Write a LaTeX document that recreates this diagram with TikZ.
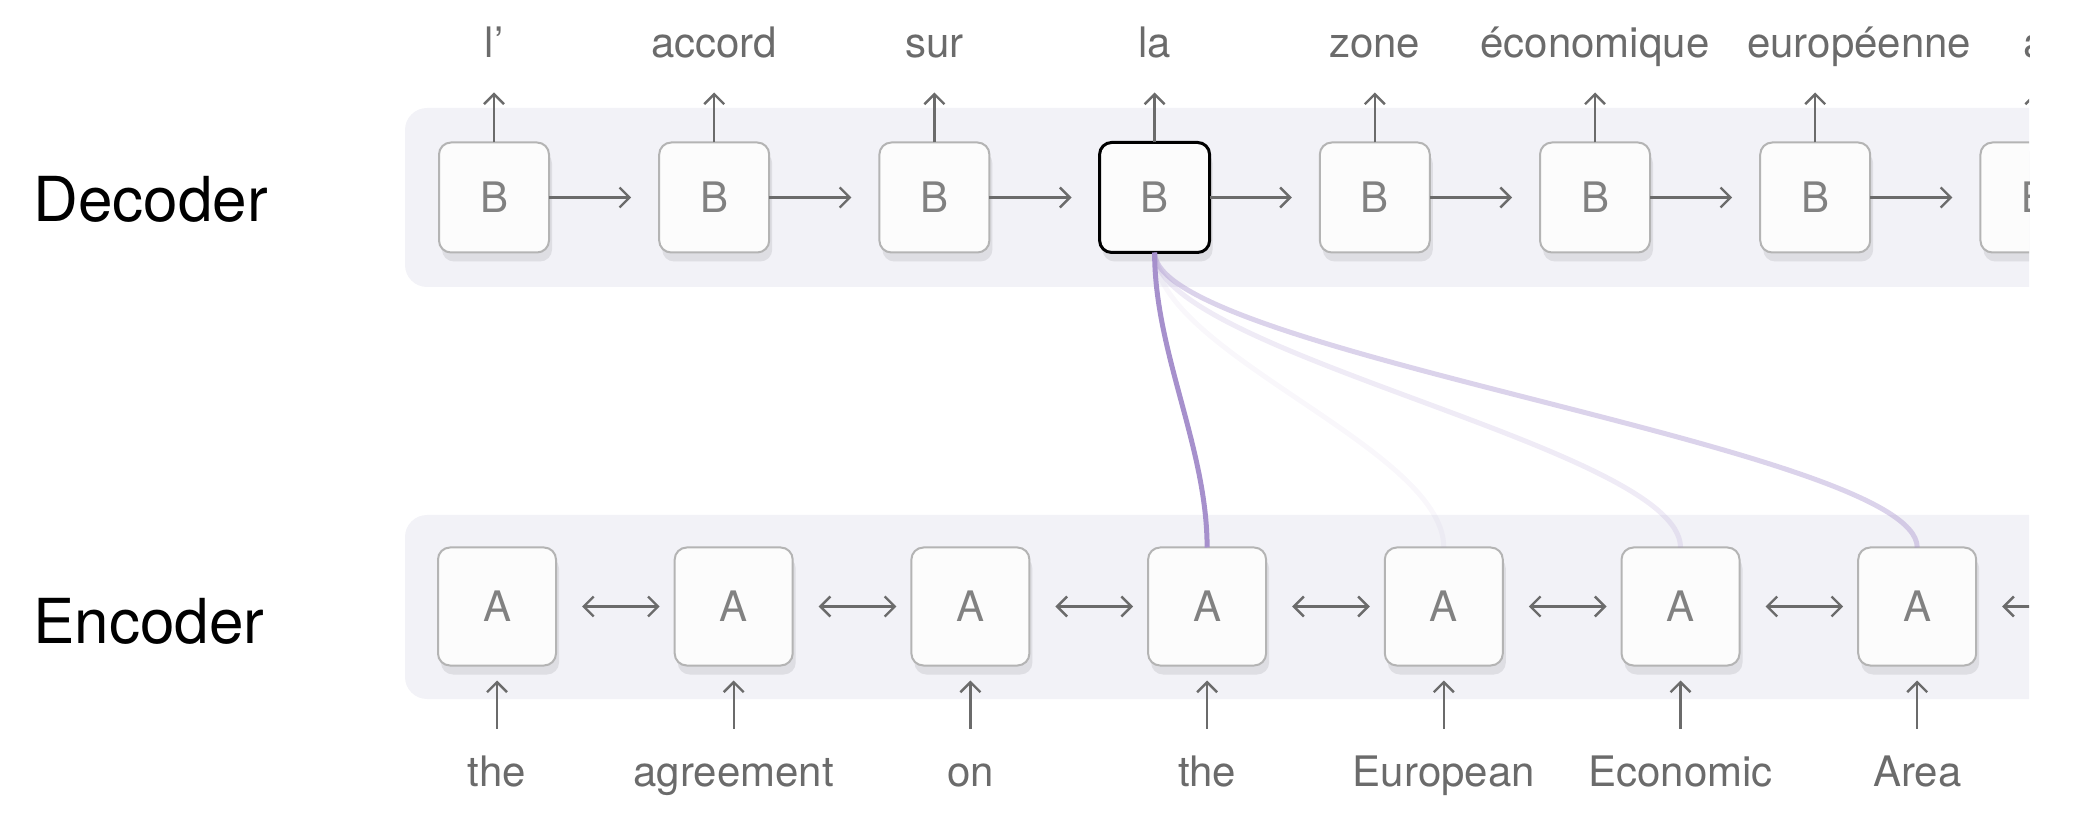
\documentclass[tikz,border=0pt]{standalone}
\usepackage{fontspec}
\setmainfont{TeX Gyre Heros}
\usetikzlibrary{positioning, arrows.meta, shadows}
\definecolor{bandgray}{HTML}{F2F2F7}
\definecolor{boxgray}{HTML}{B4B4B4}
\definecolor{boxfill}{HTML}{FCFCFC}
\definecolor{shade}{HTML}{DEDEE3}
\definecolor{inkgray}{HTML}{6B6B6B}
\definecolor{attn}{HTML}{A690CC}
\tikzset{
cell/.style={rectangle, rounded corners=6pt, inner sep=0, outer sep=0, draw=boxgray, line width=1pt, fill=boxfill, text=inkgray!85, font=\fontsize{21pt}{25pt}\selectfont, drop shadow={shadow xshift=1.5pt, shadow yshift=-4.5pt, fill=shade, opacity=1}},
dec/.style={cell, minimum size=55pt}, enc/.style={cell, minimum size=59pt}, focus/.style={dec, draw=black, line width=1.5pt},
word/.style={inner sep=0, outer sep=0, text=inkgray, font=\fontsize{21pt}{25pt}\selectfont, text height=15pt, text depth=4pt},
title/.style={anchor=west, inner sep=0, font=\fontsize{31pt}{36pt}\selectfont},
flow/.style={draw=inkgray, line width=1.2pt}, link/.style={draw=attn, line width=2.5pt},
>={Straight Barb[length=5pt, width=10pt]}}

\begin{document}
\begin{tikzpicture}[x=0.5pt, y=-0.5pt]
\useasboundingbox (0,0) rectangle (2086,838);
\clip (0,0) rectangle (2029,838);
\fill [bandgray, rounded corners=11pt] (405,108) rectangle (2120,287);
\fill [bandgray, rounded corners=11pt] (405,515) rectangle (2120,699);
\node [title] (dectitle) at (33,199) {Decoder};
\node [title] (enctitle) at (33,621) {Encoder};
% decoder
\node [dec] (d1) at (494,197.5) {B};
\node [dec, right=55.1pt of d1] (d2) {B};
\node [dec, right=55.1pt of d2] (d3) {B};
\node [focus, right=55.1pt of d3] (d4) {B};
\node [dec, right=55.1pt of d4] (d5) {B};
\node [dec, right=55.1pt of d5] (d6) {B};
\node [dec, right=55.1pt of d6] (d7) {B};
\node [dec, right=55.1pt of d7] (d8) {B};
\node [word, above=38.5pt of d1] (t1) {l’};
\node [word, above=38.5pt of d2] (t2) {accord};
\node [word, above=38.5pt of d3] (t3) {sur};
\node [word, above=38.5pt of d4] (t4) {la};
\node [word, above=38.5pt of d5] (t5) {zone};
\node [word, above=38.5pt of d6] (t6) {économique};
\node [word, above=38.5pt of d7, xshift=22pt] (t7) {européenne};
\node [word, above=38.5pt of d8] (t8) {a};
% encoder
\node [enc] (e1) at (497,606.5) {A};
\node [enc, right=59.35pt of e1] (e2) {A};
\node [enc, right=59.35pt of e2] (e3) {A};
\node [enc, right=59.35pt of e3] (e4) {A};
\node [enc, right=59.35pt of e4] (e5) {A};
\node [enc, right=59.35pt of e5] (e6) {A};
\node [enc, right=59.35pt of e6] (e7) {A};
\coordinate [right=59.35pt of e7] (e8);
\node [word, below=45.5pt of e1] (s1) {the};
\node [word, below=45.5pt of e2] (s2) {agreement};
\node [word, below=45.5pt of e3] (s3) {on};
\node [word, below=45.5pt of e4] (s4) {the};
\node [word, below=45.5pt of e5] (s5) {European};
\node [word, below=45.5pt of e6] (s6) {Economic};
\node [word, below=45.5pt of e7] (s7) {Area};
% decoder arrows
\draw [flow, ->, shorten >=13.5pt] (d1) -- (t1);
\draw [flow, ->, shorten >=13.5pt] (d2) -- (t2);
\draw [flow, ->, shorten >=13.5pt] (d3) -- (t3);
\draw [flow, ->, shorten >=13.5pt] (d4) -- (t4);
\draw [flow, ->, shorten >=13.5pt] (d5) -- (t5);
\draw [flow, ->, shorten >=13.5pt] (d6) -- (t6);
\draw [flow, ->, shorten >=13.5pt] (d7.north) -- (d7.north |- t7.south);
\draw [flow, ->, shorten >=13.5pt] (d8) -- (t8);
\draw [flow, ->, shorten >=14pt] (d1) -- (d2);
\draw [flow, ->, shorten >=14pt] (d2) -- (d3);
\draw [flow, ->, shorten >=14pt] (d3) -- (d4);
\draw [flow, ->, shorten >=14pt] (d4) -- (d5);
\draw [flow, ->, shorten >=14pt] (d5) -- (d6);
\draw [flow, ->, shorten >=14pt] (d6) -- (d7);
\draw [flow, ->, shorten >=14pt] (d7) -- (d8);
% encoder arrows
\draw [flow, <->, shorten <=13pt, shorten >=7.5pt] (e1) -- (e2);
\draw [flow, <->, shorten <=13pt, shorten >=7.5pt] (e2) -- (e3);
\draw [flow, <->, shorten <=13pt, shorten >=7.5pt] (e3) -- (e4);
\draw [flow, <->, shorten <=13pt, shorten >=7.5pt] (e4) -- (e5);
\draw [flow, <->, shorten <=13pt, shorten >=7.5pt] (e5) -- (e6);
\draw [flow, <->, shorten <=13pt, shorten >=7.5pt] (e6) -- (e7);
\draw [flow, <->, shorten <=13pt, shorten >=7.5pt] (e7) -- (e8);
\draw [flow, ->, shorten <=14pt, shorten >=7.5pt] (s1) -- (e1);
\draw [flow, ->, shorten <=14pt, shorten >=7.5pt] (s2) -- (e2);
\draw [flow, ->, shorten <=14pt, shorten >=7.5pt] (s3) -- (e3);
\draw [flow, ->, shorten <=14pt, shorten >=7.5pt] (s4) -- (e4);
\draw [flow, ->, shorten <=14pt, shorten >=7.5pt] (s5) -- (e5);
\draw [flow, ->, shorten <=14pt, shorten >=7.5pt] (s6) -- (e6);
\draw [flow, ->, shorten <=14pt, shorten >=7.5pt] (s7) -- (e7);
% attention
\draw [link, draw opacity=0.07] (d4.south) .. controls +(0,100) and +(0,-100) .. (e5.north);
\draw [link, draw opacity=0.18] (d4.south) .. controls +(0,100) and +(0,-100) .. (e6.north);
\draw [link, draw opacity=0.4] (d4.south) .. controls +(0,100) and +(0,-100) .. (e7.north);
\draw [link] (d4.south) .. controls +(0,100) and +(0,-100) .. (e4.north);
\end{tikzpicture}
\end{document}
